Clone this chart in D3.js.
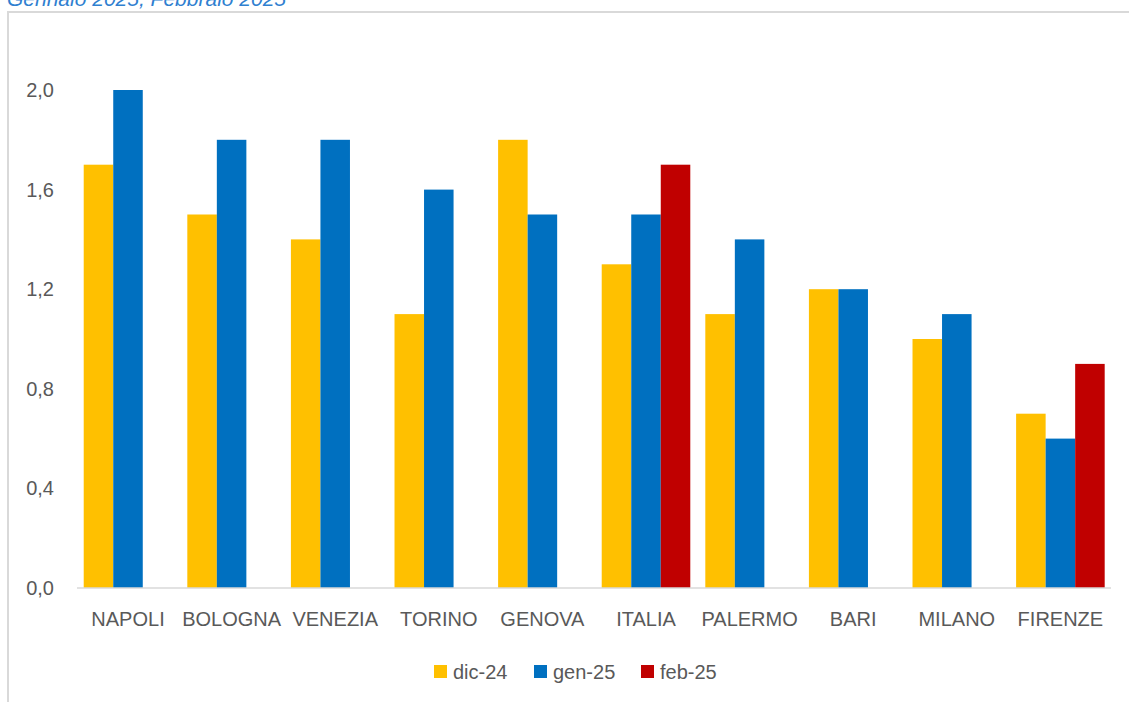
<!DOCTYPE html>
<html><head><meta charset="utf-8">
<script src="https://cdn.jsdelivr.net/npm/d3@7"></script>
<style>body{margin:0;background:#fff;}svg{display:block;}</style>
</head><body>
<script>
const categories = ["NAPOLI","BOLOGNA","VENEZIA","TORINO","GENOVA","ITALIA","PALERMO","BARI","MILANO","FIRENZE"];
const seriesNames = ["dic-24","gen-25","feb-25"];
const dic24 = [1.7,1.5,1.4,1.1,1.8,1.3,1.1,1.2,1.0,0.7];
const gen25 = [2.0,1.8,1.8,1.6,1.5,1.5,1.4,1.2,1.1,0.6];
const feb25 = [null,null,null,null,null,1.7,null,null,null,0.9];
const yTicks = [0,0.4,0.8,1.2,1.6,2.0];
const colors = ["#ffc000","#0070c0","#c00000"];
const titleText = "Gennaio 2025, Febbraio 2025";

const W=1129,H=702;
const font = "'Liberation Sans', Arial, sans-serif";
const svg = d3.select("body").append("svg").attr("width",W).attr("height",H);

svg.append("text").attr("x",7).attr("y",6).attr("font-family",font).attr("font-style","italic")
  .attr("font-size",21).attr("fill","#2f80d0").text(titleText);
// chart border
svg.append("path").attr("d",`M8,${H} V12 H${W}`).attr("fill","none").attr("stroke","#d9d9d9").attr("stroke-width",2);

const x = d3.scaleBand().domain(categories).range([76.2,1112.2]).paddingInner(0.145).paddingOuter(0.0725);
const y = d3.scaleLinear().domain([0,2.0]).range([588,90]);
const xs = d3.scaleBand().domain(seriesNames).range([0,x.bandwidth()]);

const series = [dic24,gen25,feb25];
series.forEach((vals,si)=>{
  svg.append("g").selectAll("rect").data(categories.map((c,i)=>({c,v:vals[i]})).filter(d=>d.v!=null))
    .join("rect")
    .attr("x",d=>x(d.c)+xs(seriesNames[si]))
    .attr("width",xs.bandwidth())
    .attr("y",d=>y(d.v))
    .attr("height",d=>y(0)-y(d.v))
    .attr("fill",colors[si]);
});

// baseline
svg.append("line").attr("x1",77).attr("x2",1111).attr("y1",y(0)).attr("y2",y(0)).attr("stroke","#d9d9d9").attr("stroke-width",1.5);

// y axis
const yAxis = d3.axisLeft(y).tickValues(yTicks).tickSize(0).tickPadding(0)
  .tickFormat(d=>d3.format(".1f")(d).replace(".",","));
const gy = svg.append("g").attr("transform","translate(54,0)").call(yAxis);
gy.select(".domain").remove();
gy.selectAll("text").attr("font-family",font).attr("font-size",20).attr("fill","#595959");

// x axis
const xAxis = d3.axisBottom(x).tickSize(0).tickPadding(0);
const gx = svg.append("g").attr("transform","translate(0,626)").call(xAxis);
gx.select(".domain").remove();
gx.selectAll("text").attr("font-family",font).attr("font-size",20).attr("fill","#595959").attr("dy","0");

// legend
const legendItems = [{n:"dic-24",x:434},{n:"gen-25",x:534},{n:"feb-25",x:641}];
const lg = svg.append("g");
legendItems.forEach((it,i)=>{
  lg.append("rect").attr("x",it.x).attr("y",665).attr("width",13).attr("height",13).attr("fill",colors[i]);
  lg.append("text").attr("x",it.x+19).attr("y",679).attr("font-family",font).attr("font-size",20).attr("fill","#595959").text(it.n);
});
</script>
</body></html>
